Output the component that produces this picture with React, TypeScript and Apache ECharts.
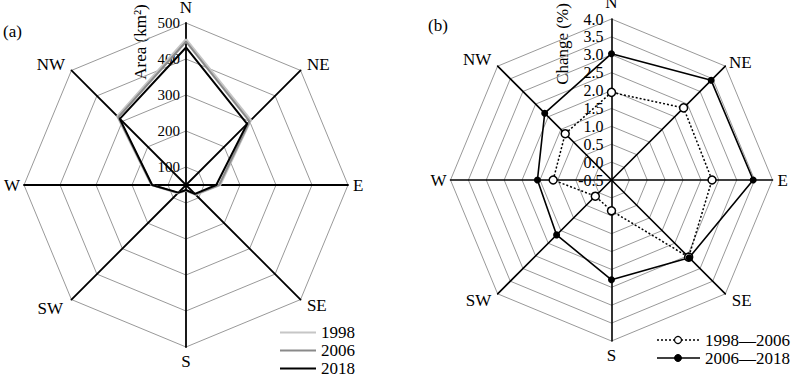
import React, { useEffect, useRef } from 'react';
import * as echarts from 'echarts';

const FONT = '"Liberation Serif", "Times New Roman", serif';

// Directions in clockwise order starting at North
const directions = ['N', 'NE', 'E', 'SE', 'S', 'SW', 'W', 'NW'];

// (a) Area (km²)
const areaMin = 50;
const areaMax = 500;
const areaTickStep = 100;
const area1998 = [455, 305, 145, 88, 66, 82, 146, 320];
const area2006 = [448, 300, 142, 87, 65, 81, 145, 316];
const area2018 = [432, 290, 134, 85, 64, 80, 144, 310];
const areaYears = ['1998', '2006', '2018'];

// (b) Change (%)
const changeMin = -0.5;
const changeMax = 4.0;
const change9806 = [1.95, 2.35, 2.31, 2.55, 0.36, 0.14, 1.13, 1.33];
const change0618 = [3.03, 3.44, 3.46, 2.57, 2.29, 1.67, 1.57, 2.14];
const periods = ['1998—2006', '2006—2018'];

// ECharts radar lays indicators counter-clockwise; reorder to keep N,NE,E... clockwise
const ccw = [0, 7, 6, 5, 4, 3, 2, 1];
const reorder = <T,>(arr: T[]) => ccw.map((i) => arr[i]);

const gapsA = [3, 9, 5, 9, 6, 12, 4, 9];
const gapsB = [1, 5, 5, 9, 6, 9, 4, 9];

export default function App() {
  const ref = useRef<HTMLDivElement>(null);
  useEffect(() => {
    document.body.style.margin = '0';
    const chart = echarts.init(ref.current!, null, { renderer: 'svg' });

    const indicatorsA = ccw.map((i, k) => {
      const o: any = { name: directions[i], min: areaMin, max: areaMax, nameGap: gapsA[i] };
      if (k === 0) o.axisLabel = { show: true };
      return o;
    });
    const indicatorsB = ccw.map((i, k) => {
      const o: any = { name: directions[i], min: changeMin, max: changeMax, nameGap: gapsB[i] };
      if (k === 0) o.axisLabel = { show: true };
      return o;
    });

    const nameStyle = { color: '#000', fontSize: 17, fontFamily: FONT };
    const textStyle = (x: number, y: number, text: string, size: number, rotation = 0, align = 'left') => ({
      type: 'text',
      x,
      y,
      rotation,
      style: {
        text,
        fontSize: size,
        fontFamily: FONT,
        fill: '#000',
        align,
        verticalAlign: 'middle',
        textAlign: align,
        textVerticalAlign: 'middle',
      },
    });

    const option: any = {
      animation: false,
      backgroundColor: '#fff',
      legend: {
        data: areaYears,
        orient: 'vertical',
        left: 280,
        top: 324,
        height: 80,
        icon: 'rect',
        itemWidth: 36,
        itemHeight: 2,
        itemGap: 1,
        padding: 0,
        selectedMode: false,
        textStyle: { fontSize: 17, fontFamily: FONT, color: '#000' },
      },
      radar: [
        {
          center: [186, 185],
          radius: 162,
          startAngle: 90,
          shape: 'polygon',
          splitNumber: (areaMax - areaMin) / (areaTickStep / 2),
          indicator: indicatorsA,
          axisName: nameStyle,
          axisLine: { lineStyle: { color: '#000', width: 1.8 } },
          axisTick: { show: false },
          splitArea: { show: false },
          splitLine: { lineStyle: { color: ['rgba(0,0,0,0)', '#999'], width: 1 } },
          axisLabel: {
            show: false,
            color: '#000',
            fontSize: 15,
            fontFamily: FONT,
            margin: 6,
            formatter: (v: number) => (Math.round(v) % areaTickStep === 0 ? String(Math.round(v)) : ''),
          },
        },
        {
          center: [611.5, 180],
          radius: 161,
          startAngle: 90,
          shape: 'polygon',
          splitNumber: 9,
          indicator: indicatorsB,
          axisName: nameStyle,
          axisLine: { lineStyle: { color: '#000', width: 1.6 } },
          axisTick: { show: false },
          splitArea: { show: false },
          splitLine: { lineStyle: { color: '#999', width: 1 } },
          axisLabel: {
            show: false,
            color: '#000',
            fontSize: 16,
            fontFamily: FONT,
            margin: 8,
            formatter: (v: number) => Number(v).toFixed(1),
          },
        },
      ],
      series: [
        {
          type: 'radar',
          radarIndex: 0,
          symbol: 'none',
          z: 2,
          data: [
            {
              name: areaYears[0],
              value: reorder(area1998),
              lineStyle: { color: '#c6c6c6', width: 2.2 },
              itemStyle: { color: '#c6c6c6' },
            },
            {
              name: areaYears[1],
              value: reorder(area2006),
              lineStyle: { color: '#8a8a8a', width: 2 },
              itemStyle: { color: '#8a8a8a' },
            },
            {
              name: areaYears[2],
              value: reorder(area2018),
              lineStyle: { color: '#000', width: 2 },
              itemStyle: { color: '#000' },
            },
          ],
        },
        {
          type: 'radar',
          radarIndex: 1,
          z: 2,
          data: [
            {
              name: periods[0],
              value: reorder(change9806),
              symbol: 'circle',
              symbolSize: 8,
              lineStyle: { color: '#000', width: 1.5, type: [2, 2] },
              itemStyle: { color: '#fff', borderColor: '#000', borderWidth: 1.5 },
            },
            {
              name: periods[1],
              value: reorder(change0618),
              symbol: 'circle',
              symbolSize: 7,
              lineStyle: { color: '#000', width: 1.6 },
              itemStyle: { color: '#000', borderColor: '#000', borderWidth: 0 },
            },
          ],
        },
      ],
      graphic: [
        textStyle(3, 31, '(a)', 17),
        textStyle(428, 25, '(b)', 17),
        textStyle(140, 42, 'Area (km²)', 17, Math.PI / 2, 'center'),
        textStyle(562, 44, 'Change (%)', 17, Math.PI / 2, 'center'),
        {
          type: 'line',
          shape: { x1: 657, y1: 340, x2: 700, y2: 340 },
          style: { stroke: '#000', lineWidth: 1.5, lineDash: [2, 2] },
        },
        {
          type: 'circle',
          shape: { cx: 678, cy: 340, r: 3.5 },
          style: { fill: '#fff', stroke: '#000', lineWidth: 1.2 },
        },
        textStyle(705, 340, periods[0], 17),
        {
          type: 'line',
          shape: { x1: 657, y1: 358, x2: 700, y2: 358 },
          style: { stroke: '#000', lineWidth: 1.6 },
        },
        {
          type: 'circle',
          shape: { cx: 678, cy: 358, r: 3.5 },
          style: { fill: '#000', stroke: '#000', lineWidth: 1 },
        },
        textStyle(705, 358, periods[1], 17),
      ],
    };

    chart.setOption(option);
    return () => chart.dispose();
  }, []);
  return <div ref={ref} style={{ width: 800, height: 378 }} />;
}
